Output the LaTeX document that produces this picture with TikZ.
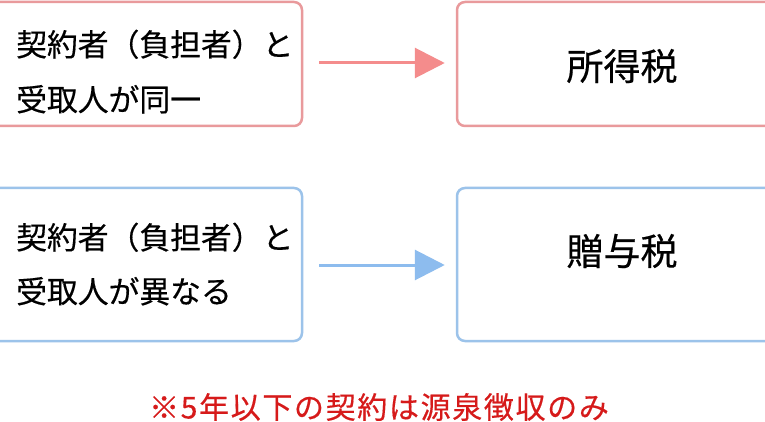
\documentclass[tikz,border=0pt]{standalone}
\usepackage{fontspec}
\setmainfont{Noto Sans CJK JP}
\newfontfamily\cjk[FakeBold=0.4]{Noto Sans CJK JP}
\usetikzlibrary{arrows.meta}
\definecolor{boxred}{HTML}{E99A9C}
\definecolor{arrred}{HTML}{F48C8C}
\definecolor{boxblue}{HTML}{9CC3EA}
\definecolor{arrblue}{HTML}{8DBCEE}
\definecolor{notered}{HTML}{D61A1A}
\tikzset{
  box/.style={draw, line width=2.5pt, rounded corners=8pt, fill=white, inner sep=0pt},
  lefttext/.style={anchor=base west, inner sep=0pt, font=\cjk\fontsize{30.8}{36}\selectfont},
  righttext/.style={anchor=center, inner sep=0pt, font=\cjk\fontsize{37}{44}\selectfont},
  conn/.style={line width=3pt, -{Triangle[length=30pt,width=30pt]}, shorten <=16pt, shorten >=11pt}
}
\begin{document}
\begin{tikzpicture}[x=1pt,y=-1pt]
\useasboundingbox (0,0) rectangle (765,422);
\fill[white] (0,0) rectangle (765,422);
% boxes
\node[box, draw=boxred, minimum width=312pt, minimum height=124pt] (tl) at (146,64) {};
\node[box, draw=boxred, minimum width=323pt, minimum height=124pt] (tr) at (618.5,64) {};
\node[box, draw=boxblue, minimum width=312pt, minimum height=153pt] (bl) at (146,264.5) {};
\node[box, draw=boxblue, minimum width=323pt, minimum height=153pt] (br) at (618.5,264.5) {};
% texts
\node[lefttext] (tl1) at (16,56) {契約者（負担者）と};
\node[lefttext] (tl2) at (16,111) {受取人が同一};
\node[lefttext] (bl1) at (16,249) {契約者（負担者）と};
\node[lefttext] (bl2) at (16,303) {受取人が異なる};
\node[righttext] (trt) at (622,66) {所得税};
\node[righttext] (brt) at (622,251) {贈与税};
% connectors
\draw[conn, arrred] (tl.east |- 0,63) -- (tr.west |- 0,63);
\draw[conn, arrblue] (bl.east |- 0,265) -- (br.west |- 0,265);
% note
\node[inner sep=0pt, text=notered, font=\cjk\fontsize{30}{36}\selectfont\addfontfeature{LetterSpace=5.5}] (note) at (379,407) {※5年以下の契約は源泉徴収のみ};
\end{tikzpicture}
\end{document}
